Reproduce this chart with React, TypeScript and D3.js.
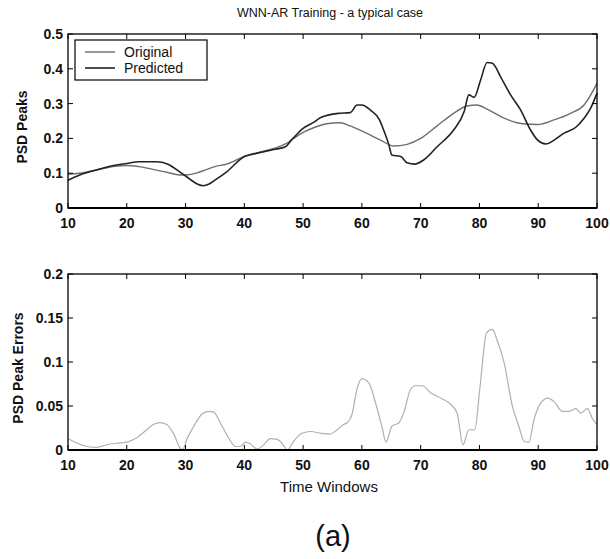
import React from "react";
import { scaleLinear, line, curveMonotoneX } from "d3";

// time windows and PSD peak values
const originalT = [10, 12, 15, 18, 20, 22, 25, 27, 29, 30, 32, 33, 35, 37, 40, 42, 45, 47, 48, 50, 52, 54, 56.3, 58, 60.3, 63.2, 65.4, 67.7, 70, 72.8, 75.6, 77.9, 79.6, 81.3, 84.2, 87, 89.9, 92.7, 95.5, 97.8, 100];
const originalV = [0.097, 0.1, 0.11, 0.12, 0.122, 0.119, 0.109, 0.102, 0.095, 0.095, 0.101, 0.107, 0.119, 0.126, 0.148, 0.157, 0.171, 0.184, 0.195, 0.217, 0.232, 0.242, 0.245, 0.236, 0.219, 0.195, 0.178, 0.183, 0.2, 0.236, 0.272, 0.293, 0.296, 0.284, 0.258, 0.243, 0.24, 0.253, 0.272, 0.296, 0.358];

const predictedT = [10, 12, 15, 18, 20, 22, 25, 27, 29, 30, 32, 33, 34, 35, 37, 40, 42, 45, 47, 48, 50, 52, 53, 56, 58, 59.2, 60, 61.4, 63, 63.7, 64.6, 65.1, 66.6, 67.7, 69, 70.5, 72.8, 75.6, 77.4, 78.2, 79.1, 80.2, 81.3, 82.2, 83.6, 85.3, 87, 88.7, 89.9, 91.3, 92.7, 94.4, 96.4, 97.8, 98.9, 100];
const predictedV = [0.08, 0.095, 0.11, 0.123, 0.128, 0.133, 0.133, 0.126, 0.104, 0.092, 0.069, 0.064, 0.069, 0.08, 0.104, 0.148, 0.157, 0.168, 0.176, 0.195, 0.229, 0.248, 0.26, 0.272, 0.274, 0.296, 0.296, 0.282, 0.253, 0.224, 0.181, 0.152, 0.148, 0.13, 0.126, 0.138, 0.176, 0.224, 0.277, 0.325, 0.318, 0.368, 0.418, 0.416, 0.377, 0.325, 0.282, 0.224, 0.195, 0.184, 0.195, 0.215, 0.232, 0.258, 0.286, 0.33];

const errorT = [10, 11.5, 13.2, 14.9, 16.6, 18.9, 20, 21.7, 23.4, 24.5, 25.7, 26.8, 28, 29.1, 29.5, 30.2, 31.4, 32.8, 33.9, 34.8, 35.9, 37.3, 38.5, 39.3, 40.2, 41, 42.2, 43.3, 44.4, 45.6, 46.7, 47.3, 48.4, 49.8, 51.3, 53, 54.5, 55.8, 56.9, 57.5, 58.3, 59.2, 60, 61.2, 62.3, 63.4, 64.1, 65.1, 66.3, 67.1, 68.3, 69.1, 70.3, 71.7, 73.4, 75.1, 76.2, 77.2, 78.2, 79.2, 80.1, 81.2, 82.2, 83, 84.2, 85.6, 86.7, 87.6, 88.4, 89.3, 90.4, 91.6, 92.7, 94.1, 95.3, 96.4, 97.2, 98.4, 99.2, 100];
const errorV = [0.013, 0.008, 0.004, 0.003, 0.006, 0.008, 0.009, 0.014, 0.023, 0.029, 0.031, 0.029, 0.018, 0.002, 0, 0.012, 0.027, 0.041, 0.044, 0.043, 0.031, 0.014, 0.004, 0.004, 0.009, 0.007, 0.001, 0.006, 0.013, 0.012, 0.005, 0, 0.01, 0.019, 0.021, 0.019, 0.018, 0.023, 0.029, 0.031, 0.04, 0.07, 0.081, 0.076, 0.054, 0.027, 0.009, 0.027, 0.031, 0.042, 0.069, 0.073, 0.073, 0.065, 0.059, 0.052, 0.042, 0.006, 0.023, 0.023, 0.072, 0.133, 0.137, 0.125, 0.099, 0.05, 0.027, 0.01, 0.009, 0.035, 0.053, 0.059, 0.055, 0.044, 0.044, 0.047, 0.042, 0.047, 0.036, 0.029];

const xTicks = [10, 20, 30, 40, 50, 60, 70, 80, 90, 100];
const peakTicks = [0, 0.1, 0.2, 0.3, 0.4, 0.5];
const peakTickLabels = ["0", "0.1", "0.2", "0.3", "0.4", "0.5"];
const errorTicks = [0, 0.05, 0.1, 0.15, 0.2];
const errorTickLabels = ["0", "0.05", "0.1", "0.15", "0.2"];

const font = "'Liberation Sans', Arial, Helvetica, sans-serif";
const left = 68;
const right = 597;
const tickLen = 5;

const Panel = ({ top, bottom, yMax, ticks, tickLabels, yLabel, yLabelX, children }) => {
    const x = scaleLinear().domain([10, 100]).range([left, right]);
    const y = scaleLinear().domain([0, yMax]).range([bottom, top]);
    return (
        <g>
            {children(x, y)}
            {xTicks.map(t =>
                <g key={`xt-${t}`}>
                    <line x1={x(t)} x2={x(t)} y1={bottom} y2={bottom - tickLen} stroke="#000" />
                    <line x1={x(t)} x2={x(t)} y1={top} y2={top + tickLen} stroke="#000" />
                    <text x={x(t)} y={bottom + 20} textAnchor="middle" fontSize={14} fontWeight="bold" fill="#111">{t}</text>
                </g>
            )}
            {ticks.map((t, i) =>
                <g key={`yt-${t}`}>
                    <line x1={left} x2={left + tickLen} y1={y(t)} y2={y(t)} stroke="#000" />
                    <line x1={right} x2={right - tickLen} y1={y(t)} y2={y(t)} stroke="#000" />
                    <text x={left - 5} y={y(t)} dy="0.35em" textAnchor="end" fontSize={14} fontWeight="bold" fill="#111">{tickLabels[i]}</text>
                </g>
            )}
            <rect x={left} y={top} width={right - left} height={bottom - top} fill="none" stroke="#000" strokeWidth={1.3} />
            <line x1={left} x2={right} y1={bottom} y2={bottom} stroke="#000" strokeWidth={2.2} />
            <text
                transform={`translate(${yLabelX}, ${(top + bottom) / 2 + 6}) rotate(-90)`}
                textAnchor="middle" fontSize={14} fontWeight="bold" fill="#111"
            >
                {yLabel}
            </text>
        </g>
    );
};

const App = () => {
    const width = 610;
    const height = 559;

    const path = (ts, vs, x, y) =>
        line().curve(curveMonotoneX)(ts.map((t, i) => [x(t), y(vs[i])]));

    return (
        <svg width={width} height={height} style={{ position: "absolute", left: 0, top: 0, background: "#fff" }} fontFamily={font}>
            <text x={330} y={17} textAnchor="middle" fontSize={12.5} fill="#111">WNN-AR Training  - a typical case</text>

            <Panel top={34} bottom={208} yMax={0.5} ticks={peakTicks} tickLabels={peakTickLabels} yLabel="PSD Peaks" yLabelX={27}>
                {(x, y) => (
                    <g>
                        <path d={path(originalT, originalV, x, y)} fill="none" stroke="#6e6e6e" strokeWidth={1.4} />
                        <path d={path(predictedT, predictedV, x, y)} fill="none" stroke="#222" strokeWidth={1.6} />
                        <rect x={75} y={40} width={132} height={40} fill="#fff" stroke="#000" strokeWidth={1.2} />
                        <line x1={85} x2={115} y1={52} y2={52} stroke="#6e6e6e" strokeWidth={1.4} />
                        <line x1={85} x2={115} y1={68} y2={68} stroke="#222" strokeWidth={1.6} />
                        <text x={124} y={52} dy="0.35em" fontSize={14} fill="#111">Original</text>
                        <text x={124} y={68} dy="0.35em" fontSize={14} fill="#111">Predicted</text>
                    </g>
                )}
            </Panel>

            <Panel top={274} bottom={450} yMax={0.2} ticks={errorTicks} tickLabels={errorTickLabels} yLabel="PSD Peak Errors" yLabelX={23}>
                {(x, y) => (
                    <path d={path(errorT, errorV, x, y)} fill="none" stroke="#b0b0b0" strokeWidth={1.2} />
                )}
            </Panel>

            <text x={329} y={492} textAnchor="middle" fontSize={15} fill="#111">Time Windows</text>
            <text x={333} y={546} textAnchor="middle" fontSize={29} fill="#111">(a)</text>
        </svg>
    );
};

export default App;
